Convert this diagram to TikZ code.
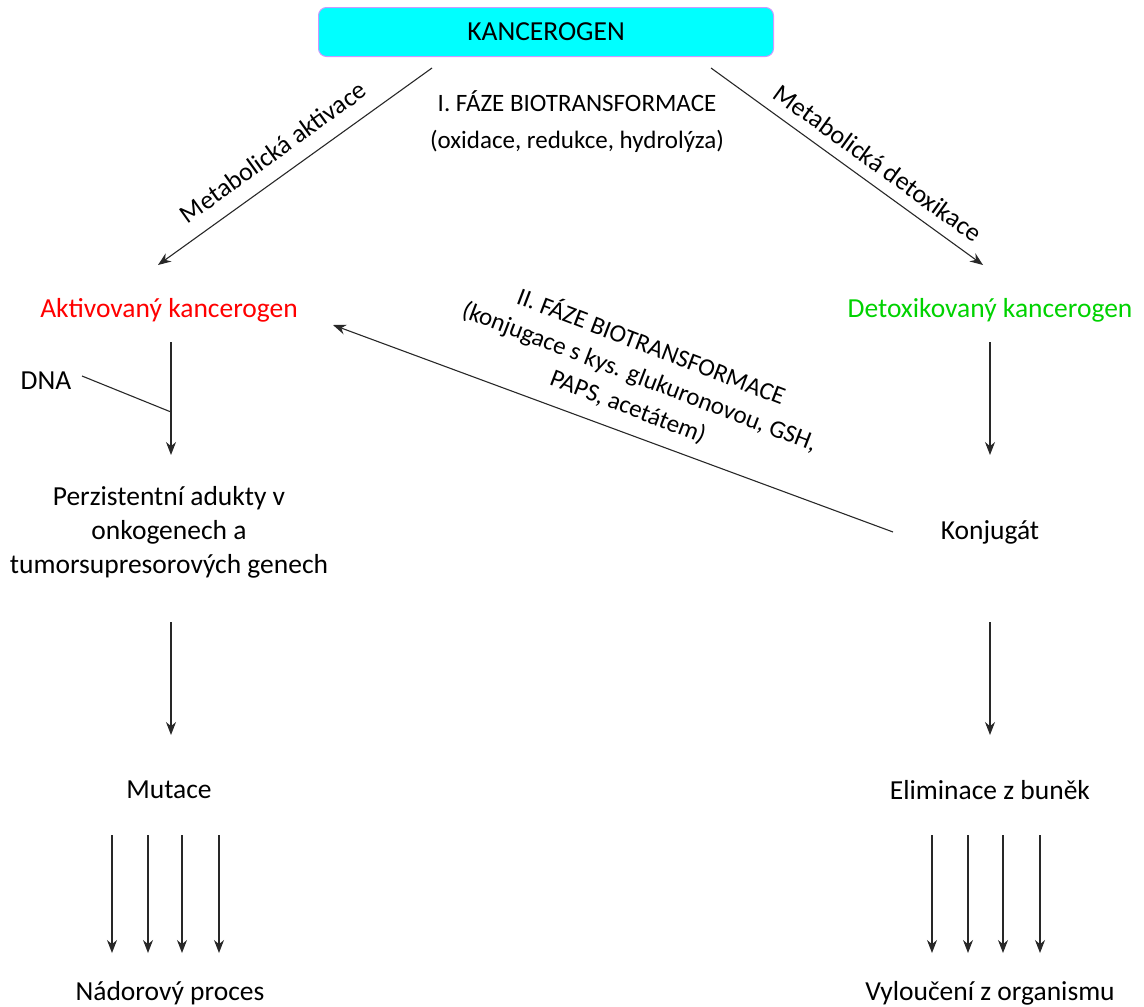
\documentclass[tikz,border=0pt]{standalone}
\usepackage{fontspec}
\setmainfont{Carlito}
\usetikzlibrary{arrows.meta,calc}
\definecolor{boxfill}{RGB}{0,255,255}
\definecolor{boxline}{RGB}{204,153,255}
\definecolor{actred}{RGB}{255,0,0}
\definecolor{detgreen}{RGB}{0,210,0}
\definecolor{linecol}{RGB}{40,40,40}
\begin{document}
\begin{tikzpicture}[x=1pt,y=-1pt,
  txt/.style={font=\fontsize{27.5}{34}\selectfont, inner sep=0pt, align=center},
  small/.style={font=\fontsize{25}{37}\selectfont, inner sep=0pt, align=center},
  arr/.style={draw=linecol, line width=1.1pt, -{Stealth[length=13pt,width=10pt]}},
  ln/.style={draw=linecol, line width=1.1pt},
  topbox/.style={txt, draw=boxline, fill=boxfill, line width=1pt, rounded corners=8pt,
    minimum width=455pt, minimum height=49pt}]
\useasboundingbox (0,0) rectangle (1144,1007);

\node[topbox] (kanc) at (546,32) {KANCEROGEN};
\node[small] (phase1) at (577,122) {I. FÁZE BIOTRANSFORMACE\\(oxidace, redukce, hydrolýza)};
\node[txt, text=actred] (akt) at (169,310) {Aktivovaný kancerogen};
\node[txt, text=detgreen] (det) at (990,310) {Detoxikovaný kancerogen};
\node[txt] (dna) at (46,381) {DNA};
\node[txt] (pers) at (169,532) {Perzistentní adukty v\\onkogenech a\\tumorsupresorových genech};
\node[txt] (konj) at (990,532) {Konjugát};
\node[txt] (mut) at (169,790) {Mutace};
\node[txt] (elim) at (990,790) {Eliminace z buněk};
\node[txt] (nad) at (170,993) {Nádorový proces};
\node[txt] (vyl) at (990,993) {Vyloučení z organismu};

\node[txt, font=\fontsize{26}{32}\selectfont, rotate=35.7] (lblact) at (273,152) {Metabolická aktivace};
\node[txt, font=\fontsize{26}{32}\selectfont, rotate=-35.9] (lbldet) at (878,163) {Metabolická detoxikace};
\node[small, font=\fontsize{25}{32}\selectfont, rotate=-21] (phase2) at (640,376) {II. FÁZE BIOTRANSFORMACE\\(konjugace s kys. glukuronovou, GSH,\\PAPS, acetátem)};

% connectors
\draw[arr] ($(kanc)+(-114,36)$) -- ($(akt)+(-11,-45)$);
\draw[arr] ($(kanc)+(165,36)$) -- ($(det)+(-7,-45)$);
\draw[arr] ($(akt)+(2,32)$) -- ($(pers)+(2,-77)$);
\coordinate (dnajoin) at ($(akt)+(2,102)$);
\draw[ln] ($(dna)+(36,-5)$) -- (dnajoin);
\draw[arr] ($(det)+(0,32)$) -- ($(konj)+(0,-77)$);
\draw[arr] ($(konj)+(-97,0)$) -- ($(akt)+(164,15)$);
\draw[arr] ($(pers)+(2,90)$) -- ($(mut)+(2,-55)$);
\draw[arr] ($(konj)+(0,90)$) -- ($(elim)+(0,-55)$);
\foreach \dx in {-57,-21,13,50} {
  \draw[arr] ($(mut)+(\dx,45)$) -- ($(nad)+(\dx-1,-40)$);
}
\foreach \dx in {-58,-22,13,50} {
  \draw[arr] ($(elim)+(\dx,45)$) -- ($(vyl)+(\dx,-40)$);
}
\end{tikzpicture}
\end{document}
